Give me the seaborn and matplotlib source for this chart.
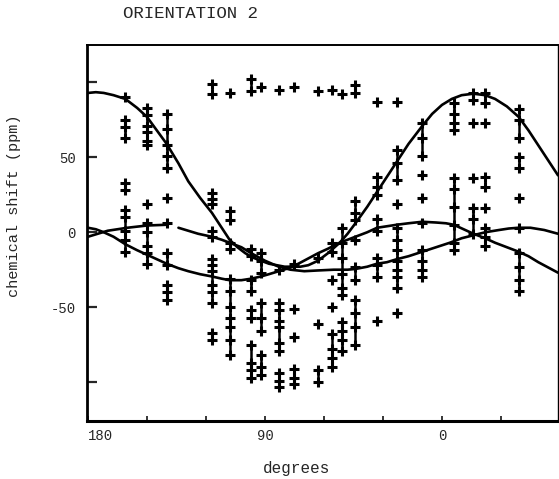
import numpy as np
import pandas as pd
import matplotlib
matplotlib.use("Agg")
import matplotlib.pyplot as plt
import seaborn as sns

# ---------------- data ----------------
# fitted curves: angle (degrees) and chemical shift (ppm)
curveA_deg = [180, 176, 172, 167, 161, 155, 150, 145, 140, 134, 129, 123, 117, 112, 108, 104, 100, 96, 92, 88, 84, 80, 76, 72, 68, 63, 58, 52, 48, 44, 38, 33, 28, 23, 17, 10, 5, 0, -5, -10, -16, -22, -27, -33, -39, -44, -49, -54, -59]
curveA_ppm = [93, 93.5, 93, 91.5, 89, 83, 77, 68, 59, 46, 34, 23, 13, 3, -5, -10, -14, -17, -19, -21, -22, -23, -23, -23, -22, -19, -14, -7, -1, 6, 17, 27, 37, 47, 59, 71, 79, 85, 89, 91.5, 92.5, 91.5, 89, 84, 77, 68, 58, 48, 38]

curveU1_deg = [180, 175, 170, 160, 150, 140]
curveU1_ppm = [-3, -1, 1, 3, 4.5, 5]
curveU2_deg = [134, 129, 124, 117, 112, 108, 102, 97, 90, 83, 77, 70, 63, 55, 48, 44, 38, 33, 28, 23, 17, 10, 3, -4, -10, -16, -22, -29, -34, -39, -45, -52, -59]
curveU2_ppm = [3, 1, -1, -3, -5, -7, -10, -14, -19, -23, -25, -26, -25.5, -25, -25, -24.5, -23, -21, -20, -18, -16, -13, -10, -7, -4, -2, 0, 1.5, 2.5, 3, 3, 1.5, -1]

curveL_deg = [180, 176, 172, 167, 161, 155, 150, 145, 140, 134, 129, 123, 117, 112, 108, 102, 97, 92, 88, 83, 78, 73, 68, 63, 58, 52, 48, 44, 38, 33, 28, 23, 17, 10, 3, -2, -6, -11, -16, -22, -27, -33, -39, -44, -49, -54, -59]
curveL_ppm = [3, 2, 0, -3, -8, -12, -15, -18, -21, -24, -26, -28, -29.5, -31, -32, -32, -31, -29.5, -28, -26, -24, -21, -17.5, -14, -11, -7, -5, -3, 0, 3, 4, 5, 6, 7, 6.5, 6, 5, 2, -1, -4, -7, -10, -13, -16, -20, -23.5, -27]

# measured points, one list per rotation angle
col_deg = [161, 150, 140, 117, 108, 97, 92, 83, 75, 63, 56, 51, 44, 33, 23, 10, -6, -16, -22, -39]
col_ppm = [
    [90, 75, 70, 63, 33, 28, 15, 10, 1, -5, -13],
    [83, 78, 71, 67, 61, 58, 19, 6, 0, -9, -14, -21],
    [79, 69, 58, 51, 43, 23, 6, -14, -22, -35, -40, -45],
    [99, 92, 26, 22, 19, 1, -3, -18, -22, -26, -35, -40, -47, -67, -72],
    [93, 14, 8, -7, -11, -31, -39, -50, -57, -63, -72, -82],
    [102, 94, -11, -16, -32, -39, -52, -57, -75, -87, -92, -97],
    [97, -14, -19, -27, -47, -57, -66, -82, -90, -95],
    [95, -25, -47, -52, -59, -63, -74, -79, -94, -99, -103],
    [97, -21, -51, -70, -91, -97, -101],
    [94, -17, -61, -92, -100],
    [95, -7, -13, -32, -50, -68, -78, -84, -90],
    [92, 3, -7, -17, -28, -37, -42, -60, -66, -72, -79],
    [98, 93, 21, 13, 8, -5, -23, -32, -45, -54, -63, -75],
    [87, 37, 30, 25, 9, 1, -17, -22, -30, -59],
    [87, 55, 46, 35, 19, 3, -5, -12, -19, -25, -30, -37, -54],
    [73, 63, 51, 38, 23, 6, -12, -19, -25, -30],
    [86, 79, 73, 68, 36, 29, 17, 5, -7, -12],
    [93, 88, 73, 36, 16, 9, -1],
    [93, 86, 73, 37, 30, 16, 3, -3, -9],
    [82, 75, 63, 50, 43, 23, 3, -14, -23, -32, -39],
]

x_ticks = [180, 150, 120, 90, 60, 30, 0, -30]
x_ticklabels = ["180", "", "", "90", "", "", "0", ""]
y_ticks = [-100, -50, 0, 50, 100]
y_ticklabels = ["", "-50", "0", "50", ""]

title = "ORIENTATION 2"
xlabel = "degrees"
ylabel = "chemical shift (ppm)"

# ---------------- drawing ----------------
sns.set_style("ticks")
plt.rcParams["font.family"] = ["Liberation Mono", "DejaVu Sans Mono"]

fig = plt.figure(figsize=(5.59, 4.79), dpi=100)
ax = fig.add_axes([87 / 559, 1 - 421 / 479, 471 / 559, 376 / 479])

# curves
for d, p in [(curveA_deg, curveA_ppm), (curveU1_deg, curveU1_ppm),
             (curveU2_deg, curveU2_ppm), (curveL_deg, curveL_ppm)]:
    sns.lineplot(x=d, y=p, sort=False, estimator=None, ax=ax,
                 color="black", linewidth=1.9)

# points
pts = pd.DataFrame([(d, v) for d, vals in zip(col_deg, col_ppm) for v in vals],
                   columns=["deg", "ppm"])
# vertical connecting bars between close points of a column
for d, vals in zip(col_deg, col_ppm):
    s = sorted(vals)
    for a, b in zip(s[:-1], s[1:]):
        if b - a <= 12:
            ax.plot([d, d], [a, b], color="black", linewidth=1.8, zorder=2)
sns.scatterplot(data=pts, x="deg", y="ppm", marker="+", s=55, color="black",
                linewidth=2.2, ax=ax, zorder=3)

ax.set_xlim(180.5, -59)
ax.set_ylim(-126, 125)
ax.set_xticks(x_ticks)
ax.set_xticklabels(x_ticklabels)
ax.set_yticks(y_ticks)
ax.set_yticklabels(y_ticklabels)
ax.tick_params(axis="y", direction="in", length=7, width=1.6, pad=8, labelsize=10)
ax.tick_params(axis="x", direction="in", length=3.5, width=1.3, pad=6, labelsize=10)
ax.get_xticklabels()[0].set_horizontalalignment("left")

for side, lw in [("left", 2.0), ("bottom", 2.2), ("top", 1.4), ("right", 1.0)]:
    ax.spines[side].set_visible(True)
    ax.spines[side].set_linewidth(lw)
    ax.spines[side].set_color("black")

ax.set_xlabel(xlabel, fontsize=11.5)
ax.xaxis.set_label_coords((297 - 87) / 471, (421 - 461) / 376)
ax.set_ylabel(ylabel, fontsize=11)
ax.yaxis.set_label_coords((21 - 87) / 471, (421 - 206) / 376)
ax.set_title(title, fontsize=12.5, x=(190 - 87) / 471, y=(421 - 26) / 376)

fig.savefig("out.png", dpi=100)
